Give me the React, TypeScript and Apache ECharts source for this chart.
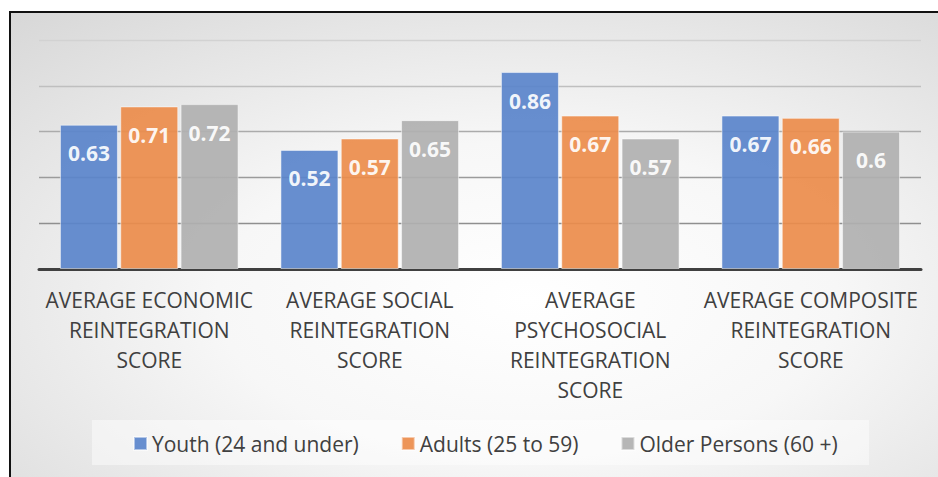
import React, { useEffect, useRef } from "react";
import * as echarts from "echarts";

const categories = [
  "AVERAGE ECONOMIC\nREINTEGRATION\nSCORE",
  "AVERAGE SOCIAL\nREINTEGRATION\nSCORE",
  "AVERAGE\nPSYCHOSOCIAL\nREINTEGRATION\nSCORE",
  "AVERAGE COMPOSITE\nREINTEGRATION\nSCORE",
];
const seriesNames = ["Youth (24 and under)", "Adults (25 to 59)", "Older Persons (60 +)"];
const youth = [0.63, 0.52, 0.86, 0.67];
const adults = [0.71, 0.57, 0.67, 0.66];
const older = [0.72, 0.65, 0.57, 0.6];
const seriesData = [youth, adults, older];
const colors = ["#5A84CB", "#EC8C4B", "#B0B0B0"];
const gridColors = ["#808080", "#8f8f8f", "#9b9b9b", "#ababab", "#bfbfbf", "#d2d2d2"];

const FONT = "'Open Sans', sans-serif";

export default function App() {
  const ref = useRef<HTMLDivElement>(null);
  useEffect(() => {
    if (!ref.current) return;
    const chart = echarts.init(ref.current, null, { renderer: "svg" });
    chart.setOption({
      animation: false,
      graphic: [
        {
          type: "rect",
          z: -100,
          silent: true,
          shape: { x: 10, y: 12, width: 940, height: 480 },
          style: {
            fill: {
              type: "radial",
              x: 0.55,
              y: 0.6,
              r: 1.1,
              colorStops: [
                { offset: 0, color: "#ffffff" },
                { offset: 0.3, color: "#f7f7f7" },
                { offset: 1, color: "#c4c4c4" },
              ],
            },
            stroke: "#111111",
            lineWidth: 2,
          },
        },
        {
          type: "rect",
          z: -50,
          silent: true,
          shape: { x: 92, y: 420, width: 777, height: 45 },
          style: { fill: "rgba(255,255,255,0.45)" },
        },
      ],
      grid: { left: 39, right: 17, top: 40, bottom: 208, containLabel: false },
      legend: {
        data: seriesNames,
        top: 428,
        left: 128,
        icon: "rect",
        itemWidth: 13,
        itemHeight: 13,
        itemGap: 42,
        textStyle: { fontSize: 21, color: "#404040", fontFamily: FONT, lineHeight: 20 },
      },
      xAxis: {
        type: "category",
        data: categories,
        axisLine: { lineStyle: { color: "#404040", width: 3 } },
        axisTick: { show: false },
        axisLabel: {
          interval: 0,
          color: "#404040",
          fontSize: 21,
          lineHeight: 30,
          margin: 16,
          fontFamily: FONT,
        },
      },
      yAxis: {
        type: "value",
        min: 0,
        max: 1,
        interval: 0.2,
        axisLabel: { show: false },
        axisLine: { show: false },
        axisTick: { show: false },
        splitLine: { lineStyle: { color: gridColors, width: 1.3 } },
      },
      series: seriesNames.map((name, i) => ({
        name,
        type: "bar",
        data: seriesData[i],
        barCategoryGap: "19%",
        barGap: "4%",
        itemStyle: {
          color: colors[i],
          opacity: 0.92,
          borderColor: "rgba(255,255,255,0.55)",
          borderWidth: 1,
        },
        label: {
          show: true,
          position: "insideTop",
          distance: 18,
          color: "#ffffff",
          fontWeight: "bold",
          fontSize: 21,
          fontFamily: FONT,
        },
      })),
    });
    return () => chart.dispose();
  }, []);
  return (
    <div
      ref={ref}
      style={{ position: "absolute", left: 0, top: 0, width: 938, height: 477 }}
    />
  );
}
